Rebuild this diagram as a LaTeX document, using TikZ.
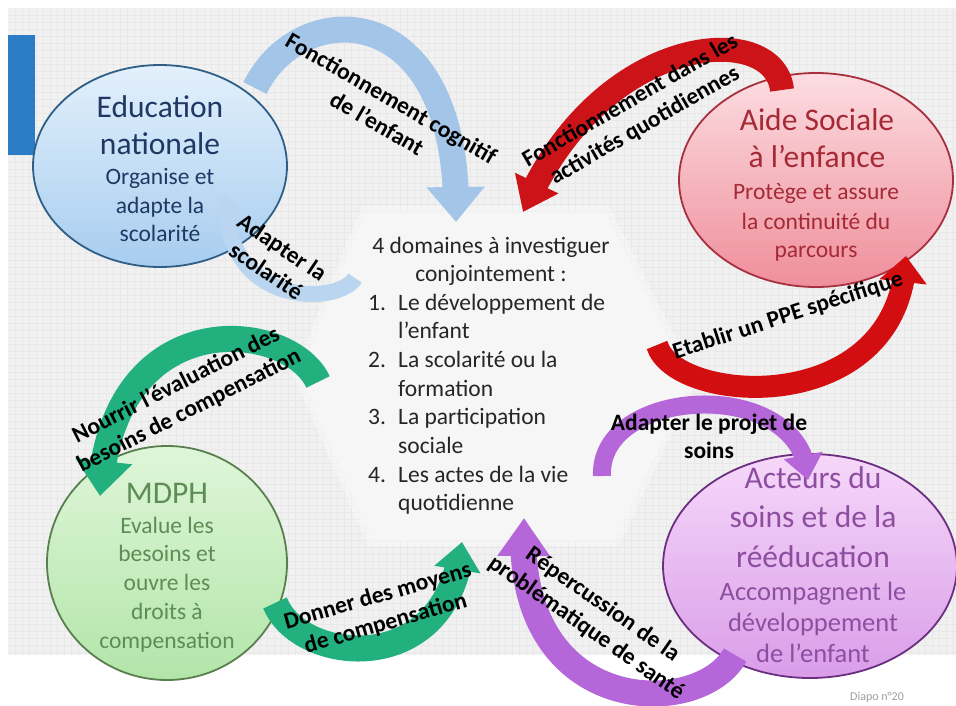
\documentclass[tikz,border=0pt]{standalone}
\usepackage{fontspec}
\setmainfont{Carlito}
\usetikzlibrary{arrows.meta,bending,shapes.geometric}
\definecolor{bggray}{HTML}{F1F1F1}
\definecolor{gridcol}{HTML}{E8E8E8}
\definecolor{barblue}{HTML}{2A7CC4}
\definecolor{eduTop}{HTML}{E3F0FC}
\definecolor{eduBot}{HTML}{A7CDEF}
\definecolor{eduLine}{HTML}{2F5F86}
\definecolor{eduText}{HTML}{1F3864}
\definecolor{aseTop}{HTML}{FCDDE1}
\definecolor{aseBot}{HTML}{EF8E9B}
\definecolor{aseLine}{HTML}{A8303E}
\definecolor{aseText}{HTML}{A52A36}
\definecolor{mdTop}{HTML}{DFF6D9}
\definecolor{mdBot}{HTML}{B2E5A9}
\definecolor{mdLine}{HTML}{587F4E}
\definecolor{mdText}{HTML}{5E8C55}
\definecolor{acTop}{HTML}{F6D8FA}
\definecolor{acBot}{HTML}{D99DE8}
\definecolor{acLine}{HTML}{6A2F80}
\definecolor{acText}{HTML}{8E4EA0}
\definecolor{arBlue}{HTML}{A3C5E8}
\definecolor{arBlueL}{HTML}{B9D5EF}
\definecolor{arRed}{HTML}{CC1418}
\definecolor{arRed2}{HTML}{D20E10}
\definecolor{arGreen}{HTML}{22B07F}
\definecolor{arPurple}{HTML}{B566D8}
\definecolor{centerText}{HTML}{262626}
\newcommand{\mlines}[1]{\begin{tabular}[t]{@{}c@{}}#1\end{tabular}}
\begin{document}
\begin{tikzpicture}[x=1pt,y=-1pt,
  ttl/.style={anchor=base,inner sep=0pt,font=\fontsize{31.5}{37}\selectfont},
  subt/.style={anchor=base,inner sep=0pt,font=\fontsize{23.5}{28.5}\selectfont},
  lab/.style={inner sep=0pt,font=\bfseries\fontsize{23.5}{28.5}\selectfont,text=black},
  oval/.style={ellipse,draw,line width=1.8pt,inner sep=0pt},
  gridln/.style={draw=gridcol,line width=0.5pt},
  arr/.style n args={3}{line width=#1,-{Triangle[width=#2,length=#3]}}
]
\useasboundingbox (0,0) rectangle (956,706);
\fill[white] (0,0) rectangle (956,706);
\fill[bggray] (8,8) rectangle (956,655);
\foreach \gx in {15,22,...,955} {\draw[gridln] (\gx,8) -- (\gx,655);}
\foreach \gy in {15,22,...,654} {\draw[gridln] (8,\gy) -- (956,\gy);}
\fill[barblue] (8,35) rectangle (35,155);

% central hexagon
\fill[white,opacity=0.35] (362,206) -- (609,206) -- (697,380) -- (619,546) -- (368,546) -- (293,375) -- cycle;
\fill[white!97!black,opacity=0.9] (365,213) -- (605,213) -- (690,380) -- (615,540) -- (372,540) -- (300,375) -- cycle;
\coordinate (hexc) at (495,376);

% ellipses
\node[oval,draw=eduLine,top color=eduTop,bottom color=eduBot,minimum width=254pt,minimum height=202pt] (edu) at (160,166) {};
\node[oval,draw=aseLine,top color=aseTop,bottom color=aseBot,minimum width=274pt,minimum height=214pt] (ase) at (816,180) {};
\node[oval,draw=mdLine,top color=mdTop,bottom color=mdBot,minimum width=240pt,minimum height=234pt] (mdph) at (167,563) {};
\node[oval,draw=acLine,top color=acTop,bottom color=acBot,minimum width=294pt,minimum height=224pt] (act) at (810,566) {};

% ellipse texts
\node[ttl,text=eduText] (eduT) at (160,118) {\mlines{Education\\nationale}};
\node[subt,text=eduText] (eduS) at (160,185) {\mlines{Organise et\\adapte la\\scolarité}};
\node[ttl,text=aseText] (aseT) at (817,131) {\mlines{Aide Sociale\\à l’enfance}};
\node[subt,text=aseText,font=\fontsize{23.5}{29}\selectfont] (aseS) at (816,200) {\mlines{Protège et assure\\la continuité du\\parcours}};
\node[ttl,text=mdText] (mdT) at (167,503) {MDPH};
\node[subt,text=mdText,font=\fontsize{23.5}{28.75}\selectfont] (mdS) at (167,533) {\mlines{Evalue les\\besoins et\\ouvre les\\droits à\\compensation}};
\node[ttl,text=acText,font=\fontsize{31.5}{39.5}\selectfont] (acT) at (813,488) {\mlines{Acteurs du\\soins et de la\\rééducation}};
\node[subt,text=acText,font=\fontsize{26.5}{31}\selectfont] (acS) at (813,600) {\mlines{Accompagnent le\\développement\\de l’enfant}};

% center text
\node[subt,text=centerText,font=\fontsize{23.5}{28.7}\selectfont] (domH) at (491,253) {\mlines{4 domaines à investiguer\\conjointement :}};
\node[subt,anchor=base west,text=centerText,font=\fontsize{23.5}{28.7}\selectfont] (domL) at (368,310)
 {\begin{tabular}[t]{@{}l@{}l@{}}
  \makebox[30pt][l]{1.} & Le développement de\\
   & l’enfant\\
  \makebox[30pt][l]{2.} & La scolarité ou la\\
   & formation\\
  \makebox[30pt][l]{3.} & La participation\\
   & sociale\\
  \makebox[30pt][l]{4.} & Les actes de la vie\\
   & quotidienne
  \end{tabular}};

% arrow end points
\coordinate (aS) at (255,88);  \coordinate (aE) at (456,222);
\coordinate (bS) at (782,90);  \coordinate (bE) at (523,212);
\coordinate (cS) at (657,345); \coordinate (cE) at (906,256);
\coordinate (dS) at (318,382); \coordinate (dE) at (100,496);
\coordinate (eS) at (275,603); \coordinate (eE) at (462,542);
\coordinate (fS) at (602,476); \coordinate (fE) at (808,480);
\coordinate (gS) at (735,655); \coordinate (gE) at (524,518);
\coordinate (hS) at (355,278); \coordinate (hE) at (226,194);

% arrows
\draw[arr={26pt}{56pt}{35pt},draw=arBlue] (aS) .. controls (300,-5) and (462,-5) .. (aE);
\draw[arr={16pt}{30pt}{22pt},draw=arBlueL] (hS) .. controls (340,305) and (222,310) .. (hE);
\draw[arr={24pt}{46pt}{32pt},draw=arRed] (bS) .. controls (775,20) and (600,30) .. (bE);
\draw[arr={22pt}{46pt}{26pt},draw=arRed2] (cS) .. controls (675,405) and (900,420) .. (cE);
\draw[arr={26pt}{55pt}{35pt},draw=arGreen] (dS) .. controls (290,320) and (110,300) .. (dE);
\draw[arr={26pt}{45pt}{28pt},draw=arGreen] (eS) .. controls (300,665) and (450,680) .. (eE);
\draw[arr={18pt}{38pt}{25pt},draw=arPurple] (fS) .. controls (598,385) and (805,375) .. (fE);
\draw[arr={26pt}{50pt}{38pt},draw=arPurple] (gS) .. controls (700,720) and (510,720) .. (gE);

% arrow labels
\node[lab,rotate=-30] (labA) at (383,113) {\mlines{Fonctionnement cognitif\\de l’enfant}};
\node[lab,rotate=30] (labB) at (638,114) {\mlines{Fonctionnement dans les\\activités quotidiennes}};
\node[lab,rotate=-34] (labH) at (273,261) {\mlines{Adapter la\\scolarité}};
\node[lab,rotate=27] (labD) at (183,399) {\mlines{Nourrir l’évaluation des\\besoins de compensation}};
\node[lab,rotate=16] (labE) at (382,611) {\mlines{Donner des moyens\\de compensation}};
\node[lab,anchor=base] (labF) at (709,430) {\mlines{Adapter le projet de\\soins}};
\node[lab,rotate=18] (labC) at (788,316) {Etablir un PPE spécifique};
\node[lab,rotate=-35] (labG) at (594,617) {\mlines{Répercussion de la\\problématique de santé}};

\node[inner sep=0pt,font=\fontsize{12}{14}\selectfont,text=black!38] (diapo) at (877,697) {Diapo n°20};
\end{tikzpicture}
\end{document}
